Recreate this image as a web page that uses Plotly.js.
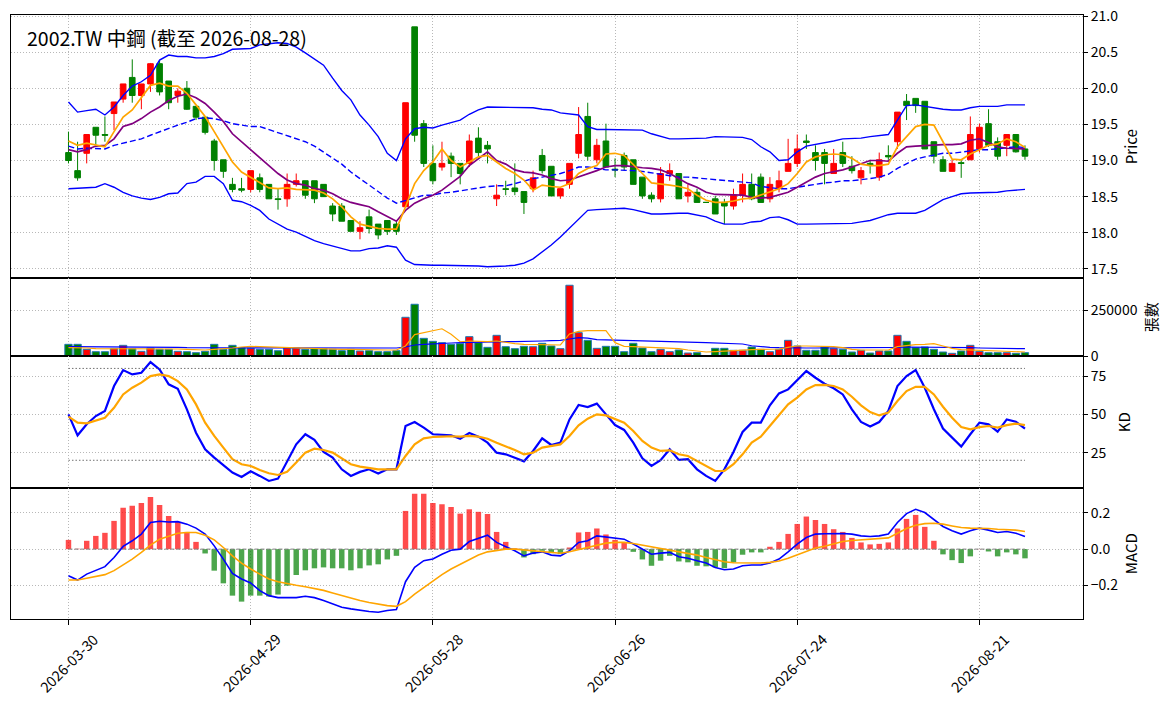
<!DOCTYPE html>
<html>
<head>
<meta charset="utf-8">
<script src="https://cdn.plot.ly/plotly-3.0.1.min.js"></script>
<style>
  body { margin: 0; background: #fff; }
  #chart { width: 1172px; height: 704px; }
</style>
</head>
<body>
<div id="chart"></div>
<script>
// trading days 2026-03-30 .. 2026-08-28
const dates = [
  '2026-03-30','2026-03-31','2026-04-01','2026-04-02','2026-04-07','2026-04-08','2026-04-09','2026-04-10',
  '2026-04-13','2026-04-14','2026-04-15','2026-04-16','2026-04-17','2026-04-20','2026-04-21','2026-04-22',
  '2026-04-23','2026-04-24','2026-04-27','2026-04-28','2026-04-29','2026-04-30','2026-05-04','2026-05-05',
  '2026-05-06','2026-05-07','2026-05-08','2026-05-11','2026-05-12','2026-05-13','2026-05-14','2026-05-15',
  '2026-05-18','2026-05-19','2026-05-20','2026-05-21','2026-05-22','2026-05-25','2026-05-26','2026-05-27',
  '2026-05-28','2026-05-29','2026-06-01','2026-06-02','2026-06-03','2026-06-04','2026-06-05','2026-06-08',
  '2026-06-09','2026-06-10','2026-06-11','2026-06-12','2026-06-15','2026-06-16','2026-06-17','2026-06-18',
  '2026-06-22','2026-06-23','2026-06-24','2026-06-25','2026-06-26','2026-06-29','2026-06-30','2026-07-01',
  '2026-07-02','2026-07-03','2026-07-06','2026-07-07','2026-07-08','2026-07-09','2026-07-10','2026-07-13',
  '2026-07-14','2026-07-15','2026-07-16','2026-07-17','2026-07-20','2026-07-21','2026-07-22','2026-07-23',
  '2026-07-24','2026-07-27','2026-07-28','2026-07-29','2026-07-30','2026-07-31','2026-08-03','2026-08-04',
  '2026-08-05','2026-08-06','2026-08-07','2026-08-10','2026-08-11','2026-08-12','2026-08-13','2026-08-14',
  '2026-08-17','2026-08-18','2026-08-19','2026-08-20','2026-08-21','2026-08-24','2026-08-25','2026-08-26',
  '2026-08-27','2026-08-28'
];
const tickDates = ['2026-03-30','2026-04-29','2026-05-28','2026-06-26','2026-07-24','2026-08-21'];

const open = [
  19.11,18.86,19.10,19.46,19.36,19.65,19.85,20.15,19.90,20.06,
  20.34,20.10,19.90,20.00,19.75,19.60,19.27,19.01,18.67,18.61,
  18.60,18.76,18.67,18.47,18.47,18.67,18.72,18.72,18.67,18.37,
  18.37,18.17,18.02,18.22,18.12,18.17,18.12,18.36,20.85,19.51,
  18.96,18.91,19.06,18.96,18.96,19.31,19.21,18.47,18.61,18.62,
  18.57,18.61,19.07,18.92,18.51,18.67,19.10,19.61,19.01,19.27,
  18.88,19.07,19.01,18.77,18.52,18.47,18.82,18.82,18.51,18.56,
  18.42,18.47,18.42,18.37,18.52,18.67,18.77,18.47,18.61,18.85,
  18.96,19.27,19.11,19.11,18.82,19.11,18.92,18.76,18.96,18.77,
  19.07,19.26,19.82,19.86,19.82,19.26,19.01,18.85,18.97,19.01,
  19.16,19.51,19.26,19.21,19.36,19.16
];
const high = [
  19.40,19.26,19.36,19.46,19.61,19.81,20.06,20.40,20.06,20.35,
  20.39,20.10,20.00,20.10,19.75,19.60,19.30,19.01,18.76,18.76,
  18.86,18.82,18.67,18.61,18.82,18.82,18.72,18.72,18.67,18.41,
  18.41,18.17,18.16,18.32,18.12,18.17,18.17,19.80,20.85,19.56,
  19.21,19.26,19.11,18.96,19.36,19.46,19.27,18.67,18.72,18.96,
  18.57,18.86,19.16,18.92,18.61,18.96,19.74,19.80,19.30,19.51,
  19.03,19.11,19.01,18.77,18.56,18.91,18.96,18.82,18.67,18.61,
  18.42,18.51,18.47,18.61,18.82,18.82,18.82,18.77,18.86,19.30,
  19.36,19.36,19.21,19.16,19.16,19.26,19.06,18.91,19.01,19.11,
  19.21,19.67,19.92,19.86,19.82,19.26,19.06,19.01,19.01,19.61,
  19.51,19.71,19.32,19.36,19.36,19.21
];
const low = [
  18.96,18.72,18.96,19.21,19.26,19.42,19.80,19.80,19.71,19.95,
  19.90,19.71,19.80,19.70,19.56,19.36,18.86,18.76,18.56,18.56,
  18.56,18.56,18.47,18.32,18.36,18.64,18.47,18.41,18.50,18.16,
  18.16,18.02,17.91,17.99,17.91,17.97,17.97,18.36,19.26,18.91,
  18.67,18.86,18.77,18.67,18.91,19.06,18.96,18.37,18.52,18.52,
  18.26,18.56,18.82,18.51,18.47,18.61,19.03,19.00,18.96,18.91,
  18.77,18.86,18.67,18.47,18.42,18.42,18.72,18.47,18.42,18.42,
  18.42,18.26,18.12,18.32,18.42,18.45,18.42,18.42,18.56,18.85,
  18.91,19.16,18.86,18.67,18.82,18.91,18.82,18.67,18.82,18.72,
  19.01,19.16,19.56,19.66,19.16,18.96,18.85,18.85,18.76,19.01,
  19.11,19.19,19.01,19.06,19.11,19.01
];
const close = [
  19.00,18.76,19.36,19.35,19.35,19.81,20.06,19.90,20.06,20.34,
  19.95,19.80,19.96,19.71,19.60,19.39,19.00,18.85,18.60,18.59,
  18.86,18.60,18.47,18.46,18.67,18.72,18.52,18.47,18.50,18.26,
  18.16,18.02,18.07,18.06,17.97,18.02,18.02,19.80,19.35,18.96,
  18.72,18.96,18.96,18.82,19.27,19.11,19.16,18.52,18.60,18.57,
  18.42,18.76,18.86,18.51,18.61,18.96,19.36,19.06,19.21,18.91,
  18.87,18.91,18.67,18.51,18.47,18.82,18.86,18.47,18.56,18.42,
  18.42,18.26,18.37,18.52,18.67,18.47,18.42,18.67,18.72,18.96,
  19.16,19.25,19.00,18.96,18.96,18.96,18.86,18.86,18.93,19.01,
  19.05,19.67,19.76,19.76,19.16,19.06,18.85,18.96,18.96,19.36,
  19.46,19.21,19.06,19.36,19.12,19.06
];

const ma5 = [
  19.27,19.21,19.24,19.21,19.19,19.40,19.60,19.70,19.87,20.04,
  20.07,20.03,20.03,19.93,19.77,19.61,19.40,19.18,18.98,18.84,
  18.77,18.69,18.62,18.61,18.62,18.60,18.59,18.59,18.55,18.47,
  18.36,18.22,18.12,18.09,18.06,18.05,18.05,18.36,18.68,18.86,
  18.98,19.16,19.00,18.91,18.98,19.05,19.07,18.98,18.89,18.82,
  18.73,18.59,18.66,18.64,18.63,18.68,18.82,18.89,18.93,19.09,
  19.10,19.07,18.95,18.82,18.69,18.68,18.66,18.64,18.61,18.52,
  18.45,18.42,18.42,18.44,18.47,18.48,18.52,18.56,18.61,18.68,
  18.82,18.98,19.05,19.08,19.09,19.08,19.03,18.95,18.93,18.93,
  18.95,19.19,19.33,19.47,19.50,19.49,19.26,19.02,19.01,19.09,
  19.15,19.21,19.23,19.30,19.26,19.18
];
const ma10 = [
  19.15,19.12,19.15,19.20,19.21,19.30,19.47,19.51,19.58,19.67,
  19.74,19.83,19.89,19.92,19.87,19.79,19.67,19.54,19.37,19.26,
  19.16,19.05,18.93,18.82,18.73,18.68,18.66,18.61,18.59,18.54,
  18.47,18.42,18.39,18.36,18.29,18.22,18.16,18.31,18.41,18.47,
  18.52,18.59,18.68,18.78,18.93,19.03,19.12,19.00,18.95,18.87,
  18.84,18.83,18.80,18.75,18.72,18.73,18.77,18.82,18.86,18.91,
  18.93,18.93,18.91,18.90,18.89,18.87,18.82,18.75,18.68,18.63,
  18.56,18.53,18.53,18.53,18.52,18.49,18.48,18.49,18.52,18.56,
  18.63,18.70,18.77,18.82,18.84,18.87,18.91,18.96,19.00,19.00,
  18.99,19.10,19.19,19.20,19.21,19.21,19.22,19.22,19.23,19.28,
  19.30,19.25,19.19,19.17,19.17,19.16
];
const ma20 = [
  19.20,19.16,19.17,19.17,19.16,19.21,19.24,19.28,19.30,19.35,
  19.40,19.44,19.49,19.53,19.58,19.59,19.58,19.55,19.51,19.49,
  19.47,19.47,19.43,19.38,19.35,19.30,19.26,19.20,19.12,19.03,
  18.95,18.84,18.75,18.66,18.56,18.48,18.41,18.45,18.49,18.52,
  18.52,18.55,18.56,18.58,18.61,18.63,18.64,18.65,18.65,18.68,
  18.72,18.75,18.77,18.79,18.82,18.86,18.91,18.91,18.89,18.87,
  18.87,18.87,18.86,18.85,18.83,18.80,18.79,18.77,18.77,18.76,
  18.74,18.73,18.72,18.72,18.71,18.69,18.64,18.62,18.61,18.61,
  18.63,18.66,18.67,18.69,18.70,18.72,18.72,18.73,18.75,18.77,
  18.81,18.89,18.96,19.02,19.05,19.07,19.10,19.10,19.12,19.14,
  19.15,19.15,19.16,19.17,19.19,19.18
];
const bbUpper = [
  19.81,19.67,19.69,19.71,19.63,19.74,19.90,20.03,20.09,20.18,
  20.39,20.46,20.44,20.44,20.42,20.42,20.44,20.48,20.54,20.54,
  20.55,20.60,20.62,20.63,20.62,20.57,20.49,20.41,20.32,20.14,
  19.97,19.84,19.63,19.49,19.33,19.10,19.00,19.30,19.44,19.46,
  19.45,19.49,19.52,19.56,19.64,19.70,19.74,19.74,19.74,19.74,
  19.74,19.73,19.71,19.70,19.66,19.64,19.63,19.47,19.43,19.43,
  19.43,19.42,19.42,19.42,19.37,19.34,19.30,19.30,19.30,19.30,
  19.31,19.33,19.33,19.33,19.32,19.29,19.19,19.12,19.00,19.01,
  19.12,19.20,19.22,19.25,19.27,19.30,19.30,19.31,19.33,19.34,
  19.36,19.56,19.76,19.77,19.75,19.72,19.71,19.70,19.70,19.73,
  19.75,19.75,19.75,19.77,19.77,19.77
];
const bbLower = [
  18.61,18.62,18.63,18.63,18.68,18.63,18.56,18.51,18.48,18.46,
  18.49,18.54,18.55,18.68,18.70,18.78,18.78,18.68,18.45,18.43,
  18.38,18.31,18.19,18.12,18.05,18.01,17.95,17.89,17.85,17.82,
  17.79,17.75,17.75,17.78,17.79,17.82,17.80,17.62,17.56,17.55,
  17.55,17.55,17.55,17.55,17.55,17.54,17.53,17.53,17.54,17.55,
  17.58,17.64,17.73,17.83,17.94,18.06,18.19,18.31,18.32,18.33,
  18.33,18.34,18.32,18.29,18.26,18.26,18.27,18.27,18.27,18.25,
  18.22,18.16,18.12,18.12,18.12,18.15,18.16,18.21,18.22,18.18,
  18.12,18.12,18.12,18.12,18.12,18.13,18.13,18.15,18.17,18.21,
  18.25,18.27,18.27,18.27,18.31,18.38,18.46,18.50,18.54,18.55,
  18.55,18.55,18.56,18.58,18.59,18.60
];

const volume = [
  63900,63900,36500,23700,23700,40200,58400,40200,25600,43800,
  36500,36500,25600,23700,18300,25600,63900,36500,58400,45600,
  42000,36500,36500,29200,45000,43800,36500,40200,40200,36500,
  29200,36500,27400,29200,23700,23700,29200,211700,282900,96700,
  80300,73000,63900,67500,105900,73000,47500,113200,51100,40200,
  52900,51100,69400,54800,40200,386900,127800,85800,42000,52900,
  52900,23700,69400,43800,23700,36500,23700,32900,16400,18300,
  1500,42000,42000,31000,31000,49300,36500,23700,36500,85800,
  54800,31000,31000,49300,40200,36500,21900,31000,16400,27400,
  27400,113200,80300,45600,49300,36500,21900,14600,27400,58400,
  25600,18300,18300,18300,14600,18300
];
const volMa5 = [
  45600,45600,43800,40200,40200,40200,42000,42000,40200,40200,
  40200,38300,38300,36500,34700,32900,36500,38300,43800,49300,
  52900,51100,49300,45600,43800,42000,40200,40200,38300,38300,
  36500,36500,34700,34700,32900,32900,32900,54800,116800,127800,
  136900,148900,119400,78000,82100,80300,78500,82100,73000,67500,
  63900,63900,60200,60200,60200,120500,135100,138700,136900,138700,
  73000,52900,51100,49300,47500,47500,43800,40200,32900,27400,
  21900,23700,27400,29200,31000,34700,36500,36500,38300,47500,
  54800,54800,54800,54800,51100,45600,36500,32900,32900,32900,
  32900,51100,58400,62100,63900,67500,54800,42000,34700,32900,
  32900,31000,29200,27400,25600,21900
];
const volMa20 = [
  51100,51100,51100,51100,51100,49300,49300,49300,49300,49300,
  49300,47500,47500,45600,45600,43800,43800,43800,43800,43800,
  43800,45600,45600,45600,45600,45600,45600,45600,45600,45600,
  45600,43800,43800,43800,43800,43800,43800,49300,60200,63900,
  67500,69400,71200,73000,74800,74800,76700,78500,78500,78500,
  78500,80300,82100,83900,85800,93000,100000,98000,90000,88000,
  87000,86000,85000,84000,83000,82000,80300,78500,76700,74800,
  73000,71200,69400,67500,65700,56000,51100,47500,45600,43800,
  43800,43800,43800,43800,43800,43800,43800,43800,43800,43800,
  45600,47500,49300,49300,49300,47500,47500,45600,45600,45600,
  43800,43800,42000,42000,42000,40200
];

const kLine = [
  50.0,36.3,43.5,48.9,52.2,68.5,78.9,76.1,77.2,84.1,
  79.3,69.6,66.7,53.3,38.0,27.2,21.7,16.7,12.0,9.1,
  12.8,9.8,6.5,8.0,19.6,30.4,37.0,33.3,25.4,21.7,
  14.1,9.8,12.4,14.1,11.3,14.1,14.1,42.4,45.0,41.3,
  37.0,36.7,36.3,34.1,37.8,35.4,31.5,25.0,23.9,21.7,
  19.3,26.1,34.3,30.0,31.5,46.7,56.1,54.8,57.0,50.0,
  43.0,39.8,31.5,21.3,16.3,20.0,27.2,20.2,20.7,14.1,
  9.8,6.5,14.1,25.4,38.5,44.6,44.6,55.9,63.7,66.3,
  72.4,78.3,73.9,70.0,67.0,63.0,53.3,45.0,42.0,45.0,
  52.2,68.5,75.0,78.9,67.4,53.3,40.7,34.8,28.9,37.0,
  44.6,43.5,38.7,46.7,45.2,40.7
];
const dLine = [
  48.5,44.6,44.1,45.7,47.8,54.3,63.0,67.4,70.7,75.0,
  76.1,75.0,71.7,66.3,56.5,44.6,35.9,28.3,20.7,17.4,
  16.3,13.7,11.5,10.4,12.5,18.5,25.0,27.6,26.7,25.0,
  21.1,17.4,15.9,15.2,14.1,14.1,14.1,22.8,30.4,34.3,
  35.2,35.4,35.7,35.4,35.9,35.4,34.1,31.5,29.3,26.7,
  23.9,25.0,28.3,29.3,30.4,35.9,42.8,47.2,50.0,49.3,
  47.2,44.6,39.1,32.6,28.3,26.1,26.5,23.9,22.8,19.6,
  15.9,13.0,13.0,17.4,23.9,31.5,35.4,42.4,50.0,56.5,
  60.9,66.3,69.1,69.3,68.5,66.3,61.5,55.9,51.5,49.3,
  51.1,58.7,65.2,68.0,68.0,63.0,55.0,47.8,41.7,40.2,
  41.7,42.4,41.3,43.0,43.9,43.0
];
const kdLevels = [80, 20];

const dif = [
  -0.147,-0.171,-0.138,-0.116,-0.097,-0.046,0.015,0.046,0.083,0.147,
  0.154,0.150,0.152,0.138,0.116,0.083,0.018,-0.055,-0.134,-0.165,
  -0.187,-0.229,-0.257,-0.268,-0.268,-0.268,-0.260,-0.268,-0.284,-0.303,
  -0.321,-0.330,-0.339,-0.345,-0.349,-0.339,-0.334,-0.180,-0.101,-0.064,
  -0.055,-0.028,-0.006,0.000,0.042,0.061,0.077,0.037,0.015,-0.009,
  -0.037,-0.022,-0.015,-0.033,-0.037,-0.009,0.037,0.046,0.073,0.068,
  0.061,0.055,0.028,0.000,-0.028,-0.022,-0.018,-0.042,-0.050,-0.064,
  -0.077,-0.101,-0.114,-0.110,-0.092,-0.088,-0.088,-0.077,-0.055,-0.015,
  0.028,0.064,0.083,0.085,0.086,0.086,0.083,0.073,0.070,0.073,
  0.083,0.147,0.196,0.220,0.202,0.165,0.125,0.101,0.083,0.101,
  0.116,0.105,0.092,0.097,0.088,0.070
];
const dea = [
  -0.171,-0.171,-0.161,-0.152,-0.141,-0.119,-0.088,-0.055,-0.018,0.022,
  0.055,0.073,0.088,0.092,0.092,0.077,0.051,0.009,-0.037,-0.077,
  -0.110,-0.138,-0.165,-0.180,-0.192,-0.200,-0.208,-0.217,-0.228,-0.242,
  -0.257,-0.272,-0.284,-0.295,-0.305,-0.312,-0.316,-0.290,-0.248,-0.211,
  -0.174,-0.141,-0.110,-0.084,-0.059,-0.033,-0.015,-0.006,0.000,0.000,
  -0.004,-0.009,-0.015,-0.020,-0.023,-0.015,-0.004,0.009,0.022,0.033,
  0.037,0.037,0.031,0.022,0.013,0.004,-0.004,-0.011,-0.022,-0.033,
  -0.046,-0.059,-0.070,-0.075,-0.077,-0.077,-0.077,-0.073,-0.066,-0.051,
  -0.033,-0.015,0.006,0.016,0.031,0.042,0.048,0.051,0.055,0.057,
  0.062,0.088,0.114,0.132,0.141,0.143,0.138,0.128,0.119,0.116,
  0.116,0.114,0.110,0.108,0.105,0.097
];
const macdHist = [
  0.051,0.002,0.046,0.073,0.090,0.156,0.228,0.239,0.255,0.288,
  0.244,0.183,0.150,0.095,0.040,-0.024,-0.119,-0.189,-0.257,-0.290,
  -0.257,-0.257,-0.262,-0.251,-0.202,-0.143,-0.117,-0.106,-0.101,-0.106,
  -0.106,-0.117,-0.106,-0.090,-0.084,-0.057,-0.037,0.211,0.306,0.306,
  0.255,0.248,0.233,0.196,0.220,0.206,0.194,0.095,0.040,0.004,
  -0.046,-0.028,-0.009,-0.022,-0.028,0.009,0.092,0.095,0.114,0.081,
  0.051,0.037,-0.015,-0.057,-0.092,-0.064,-0.037,-0.068,-0.073,-0.092,
  -0.095,-0.101,-0.105,-0.073,-0.031,-0.018,-0.018,0.013,0.040,0.084,
  0.139,0.180,0.161,0.139,0.110,0.095,0.062,0.037,0.026,0.029,
  0.037,0.114,0.167,0.189,0.123,0.046,-0.029,-0.061,-0.077,-0.040,
  0.001,-0.013,-0.040,-0.018,-0.029,-0.051
];

const priceTicks = [17.5, 18.0, 18.5, 19.0, 19.5, 20.0, 20.5, 21.0];
const volTicks = [0, 250000];
const kdTicks = [25, 50, 75];
const macdTicks = [-0.2, 0.0, 0.2];

const UP = '#ff0000', DOWN = '#008000';
const FONT = 'Noto Sans CJK TC, Noto Sans, sans-serif';
const first = dates[0], last = dates[dates.length - 1];

const volColors = close.map((c, i) => c > open[i] ? UP : DOWN);
const histColors = macdHist.map(v => v >= 0 ? 'rgba(255,0,0,0.7)' : 'rgba(0,128,0,0.7)');

function line(y, xa, ya, color, width, dash) {
  return {
    type: 'scatter', mode: 'lines', x: dates, y: y, xaxis: xa, yaxis: ya,
    line: { color: color, width: width, dash: dash || 'solid' }, hoverinfo: 'skip'
  };
}

const traces = [
  {
    type: 'candlestick', x: dates, open: open, high: high, low: low, close: close,
    xaxis: 'x', yaxis: 'y', whiskerwidth: 0,
    increasing: { line: { color: UP, width: 1 }, fillcolor: UP },
    decreasing: { line: { color: DOWN, width: 1 }, fillcolor: DOWN }
  },
  line(bbUpper, 'x', 'y', '#0000ff', 1.4),
  line(bbLower, 'x', 'y', '#0000ff', 1.4),
  line(ma20, 'x', 'y', '#0000ff', 1.4, '6px,3px'),
  line(ma10, 'x', 'y', '#800080', 1.7),
  line(ma5, 'x', 'y', '#ffa500', 1.7),

  {
    type: 'bar', x: dates, y: volume, xaxis: 'x2', yaxis: 'y2', width: 0.8,
    marker: { color: volColors, line: { color: '#1f77b4', width: 1 } }, hoverinfo: 'skip'
  },
  line(volMa20, 'x2', 'y2', '#0000ff', 1.2),
  line(volMa5, 'x2', 'y2', '#ffa500', 1.2),

  line(kLine, 'x3', 'y3', '#0000ff', 2.2),
  line(dLine, 'x3', 'y3', '#ffa500', 2.2),

  {
    type: 'bar', x: dates, y: macdHist, xaxis: 'x4', yaxis: 'y4', width: 0.6,
    marker: { color: histColors, line: { width: 0 } }, hoverinfo: 'skip'
  },
  {
    type: 'scatter', mode: 'lines', x: [first, last], y: [0, 0], xaxis: 'x4', yaxis: 'y4',
    line: { color: '#808080', width: 1, dash: '4px,2px' }, hoverinfo: 'skip'
  },
  line(dif, 'x4', 'y4', '#0000ff', 1.6),
  line(dea, 'x4', 'y4', '#ffa500', 1.6)
];
kdLevels.forEach(lv => {
  traces.push({
    type: 'scatter', mode: 'lines', x: [first, last], y: [lv, lv], xaxis: 'x3', yaxis: 'y3',
    line: { color: '#707070', width: 1, dash: '1.5px,2px' }, hoverinfo: 'skip'
  });
});

const grid = { showgrid: true, gridcolor: '#b8b8b8', gridwidth: 1, griddash: '1px,2px' };
const frame = { showline: true, mirror: true, linecolor: '#000', linewidth: 1, zeroline: false };

const xBase = Object.assign({
  type: 'category', range: [-6.31, 111.37], tickvals: tickDates,
  showticklabels: false, ticks: '', fixedrange: true
}, grid, frame);

const yBase = Object.assign({
  side: 'right', ticks: 'outside', ticklen: 4, tickcolor: '#000',
  tickfont: { family: FONT, size: 14, color: '#000' }, fixedrange: true
}, grid, frame);

const yTitle = t => ({ text: t, font: { family: FONT, size: 15, color: '#000' } });

const tickIdx = tickDates.map(d => dates.indexOf(d));
const annotations = tickDates.map((d, k) => ({
  xref: 'x4', yref: 'paper', x: tickIdx[k], y: 0, yshift: -7,
  xanchor: 'center', yanchor: 'top', textangle: -45, showarrow: false,
  text: d, font: { family: FONT, size: 14.5, color: '#000' }
}));
annotations.push({
  xref: 'paper', yref: 'paper', x: 0.0135, y: 1, yshift: -6,
  xanchor: 'left', yanchor: 'top', showarrow: false,
  text: '2002.TW 中鋼 (截至 2026-08-28)',
  font: { family: FONT, size: 19.5, color: '#000' }
});

const layout = {
  width: 1172, height: 704,
  margin: { l: 11, r: 89, t: 15, b: 85, pad: 0 },
  paper_bgcolor: '#fff', plot_bgcolor: '#fff',
  showlegend: false,
  font: { family: FONT, size: 14, color: '#000' },
  boxgap: 0.38, boxgroupgap: 0,
  xaxis: Object.assign({}, xBase, { anchor: 'y', rangeslider: { visible: false } }),
  xaxis2: Object.assign({}, xBase, { anchor: 'y2' }),
  xaxis3: Object.assign({}, xBase, { anchor: 'y3' }),
  xaxis4: Object.assign({}, xBase, { anchor: 'y4', ticks: 'outside', ticklen: 5, tickcolor: '#000' }),
  yaxis: Object.assign({}, yBase, {
    anchor: 'x', domain: [0.5641, 1], range: [17.37, 21.014],
    tickvals: priceTicks, tickformat: '.1f', title: yTitle('Price')
  }),
  yaxis2: Object.assign({}, yBase, {
    anchor: 'x2', domain: [0.4354, 0.5641], range: [0, 425000],
    tickvals: volTicks, tickformat: 'd', title: yTitle('張數')
  }),
  yaxis3: Object.assign({}, yBase, {
    anchor: 'x3', domain: [0.2164, 0.4354], range: [1.7, 88.1],
    tickvals: kdTicks, title: yTitle('KD')
  }),
  yaxis4: Object.assign({}, yBase, {
    anchor: 'x4', domain: [0, 0.2164], range: [-0.386, 0.336],
    tickvals: macdTicks, tickformat: '.1f', title: yTitle('MACD')
  }),
  annotations: annotations
};

Plotly.newPlot('chart', traces, layout, { displayModeBar: false, staticPlot: true });
</script>
</body>
</html>
